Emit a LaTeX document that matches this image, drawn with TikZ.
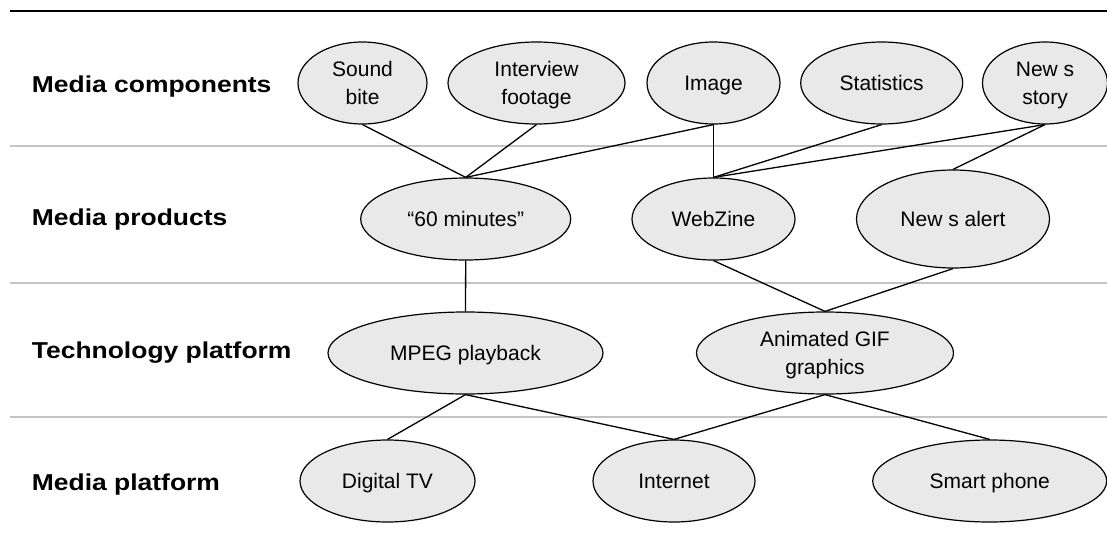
\documentclass[tikz,border=0pt]{standalone}
\usepackage{fontspec}
\usepackage{graphicx}
\setmainfont{Liberation Sans}
\usetikzlibrary{shapes.geometric}
\definecolor{ellfill}{HTML}{E9E9E9}
\definecolor{sepgray}{HTML}{C4C4C4}
\newcommand\stx{\vrule height 21.7pt depth 6.3pt width 0pt}
\newcommand\rowtxt[1]{\scalebox{1.15}[1]{#1}}
\tikzset{
  ell/.style={ellipse, draw=black, line width=1.2pt, fill=ellfill, inner sep=0pt,
    align=center, font=\fontsize{21}{28}\selectfont},
  rowlabel/.style={anchor=west, inner sep=0pt, font=\fontsize{23}{28}\selectfont\bfseries},
  link/.style={draw=black, line width=1.3pt},
  sep/.style={draw=sepgray, line width=1.6pt},
  topline/.style={draw=black, line width=2pt}
}
\begin{document}
\begin{tikzpicture}[x=1pt,y=-1pt]
\useasboundingbox (0,0) rectangle (1107,546);
% separators
\coordinate (t0) at (10,10.5); \coordinate (t1) at (1107,10.5);
\coordinate (s1a) at (10,146); \coordinate (s1b) at (1107,146);
\coordinate (s2a) at (10,283); \coordinate (s2b) at (1107,283);
\coordinate (s3a) at (10,417); \coordinate (s3b) at (1107,417);
\draw[topline] (t0) -- (t1);
\draw[sep] (s1a) -- (s1b);
\draw[sep] (s2a) -- (s2b);
\draw[sep] (s3a) -- (s3b);
% row labels
\node[rowlabel] (l1) at (31.7,87) {\rowtxt{Media components}};
\node[rowlabel] (l2) at (31.7,220) {\rowtxt{Media products}};
\node[rowlabel] (l3) at (31.7,353) {\rowtxt{Technology platform}};
\node[rowlabel] (l4) at (31.7,485) {\rowtxt{Media platform}};
% row 1
\node[ell, minimum width=129pt, minimum height=82pt] (sb) at (362.5,83) {\stx Sound\\\stx bite};
\node[ell, minimum width=177pt, minimum height=82pt] (iv) at (536.5,83) {\stx Interview\\\stx footage};
\node[ell, minimum width=133pt, minimum height=82pt] (img) at (713.5,83) {\stx Image};
\node[ell, minimum width=162pt, minimum height=82pt] (st) at (881.7,83) {\stx Statistics};
\node[ell, minimum width=125pt, minimum height=82pt] (ns) at (1045,83) {\stx New s\\\stx story};
% row 2
\node[ell, minimum width=210pt, minimum height=82pt] (sixty) at (465.7,219) {\stx ``60 minutes''};
\node[ell, minimum width=163pt, minimum height=82pt] (wz) at (713.5,219) {\stx WebZine};
\node[ell, minimum width=193pt, minimum height=98pt] (na) at (953,219) {\stx New s alert};
% row 3
\node[ell, minimum width=275pt, minimum height=82pt] (mpeg) at (465.5,353) {\stx MPEG playback};
\node[ell, minimum width=257pt, minimum height=82pt] (gif) at (825,353) {\stx Animated GIF\\\stx graphics};
% row 4
\node[ell, minimum width=175pt, minimum height=82pt] (dtv) at (387.5,481) {\stx Digital TV};
\node[ell, minimum width=162pt, minimum height=82pt] (inet) at (674,481) {\stx Internet};
\node[ell, minimum width=234pt, minimum height=82pt] (sp) at (989.7,481) {\stx Smart phone};
% links
\draw[link] (sb.south) -- (sixty.north);
\draw[link] (iv.south) -- (sixty.north);
\draw[link] (img.south) -- (sixty.north);
\draw[link] (img.south) -- (wz.north);
\draw[link] (st.south) -- (wz.north);
\draw[link] (ns.south) -- (wz.north);
\draw[link] (ns.south) -- (na.north);
\draw[link] (sixty.south) -- (mpeg.north);
\draw[link] (wz.south) -- (gif.north);
\draw[link] (na.south) -- (gif.north);
\draw[link] (mpeg.south) -- (dtv.north);
\draw[link] (mpeg.south) -- (inet.north);
\draw[link] (gif.south) -- (inet.north);
\draw[link] (gif.south) -- (sp.north);
\end{tikzpicture}
\end{document}
